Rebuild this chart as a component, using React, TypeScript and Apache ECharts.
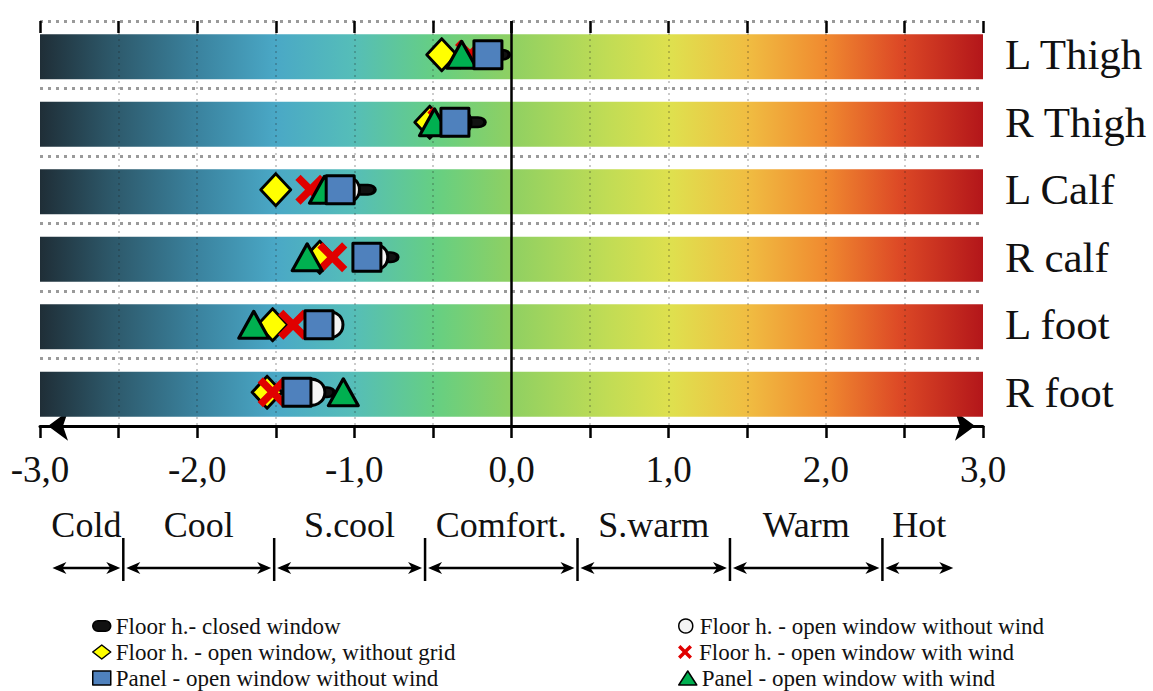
import React, { useEffect, useRef } from 'react';
import * as echarts from 'echarts';

// ---- data ----
const rows = ['L Thigh', 'R Thigh', 'L Calf', 'R calf', 'L foot', 'R foot'];
const scaleMin = -3;
const scaleMax = 3;
const gridTicks = [-2.5, -2, -1.5, -1, -0.5, 0.5, 1, 1.5, 2, 2.5];

const closedWindow = [-0.09, -0.245, -0.945, -0.80, -1.17, -1.205];
const openNoWind = [-0.14, -0.34, -1.05, -0.87, -1.155, -1.27];
const openNoGrid = [-0.444, -0.52, -1.50, -1.22, -1.52, -1.555];
const openWithWind = [-0.264, -0.44, -1.28, -1.14, -1.39, -1.52];
const panelNoWind = [-0.15, -0.36, -1.09, -0.92, -1.225, -1.365];
const panelWithWind = [-0.317, -0.49, -1.19, -1.30, -1.64, -1.07];

const zoneNames = ['Cold', 'Cool', 'S.cool', 'Comfort.', 'S.warm', 'Warm', 'Hot'];
const zoneBounds = [-2.94, -2.47, -1.51, -0.55, 0.42, 1.39, 2.36, 2.83];

const seriesNames = {
  closed: 'Floor h.- closed window',
  noWind: 'Floor h. - open window without wind',
  noGrid: 'Floor h. - open window, without grid',
  withWind: 'Floor h. - open window with wind',
  panelNoWind: 'Panel - open window without wind',
  panelWithWind: 'Panel - open window with wind',
};

const FONT = 'Liberation Serif';

const xShape =
  'path://M3.5,0 L10,6.5 L16.5,0 L20,3.5 L13.5,10 L20,16.5 L16.5,20 L10,13.5 L3.5,20 L0,16.5 L6.5,10 L0,3.5 Z';
const pillShape = 'path://M7,0 L17,0 A7,7 0 0 1 17,14 L7,14 A7,7 0 0 1 7,0 Z';

function pairs(vals: number[]) {
  return vals.map((v, i) => [v, rows[i]]);
}

export default function App() {
  const ref = useRef<HTMLDivElement>(null);

  useEffect(() => {
    if (!ref.current) return;
    const chart = echarts.init(ref.current, undefined, { renderer: 'svg' });

    const barGradient = () =>
      new echarts.graphic.LinearGradient(0, 0, 1, 0, [
        { offset: 0, color: '#1f2e37' },
        { offset: 0.07, color: '#2c5566' },
        { offset: 0.17, color: '#3b84a0' },
        { offset: 0.25, color: '#4aa8c6' },
        { offset: 0.33, color: '#55bdb9' },
        { offset: 0.42, color: '#66cf82' },
        { offset: 0.5, color: '#8fd062' },
        { offset: 0.6, color: '#c0dc55' },
        { offset: 0.67, color: '#dfe04e' },
        { offset: 0.75, color: '#f0bd42' },
        { offset: 0.83, color: '#f08c30' },
        { offset: 0.91, color: '#dd4a26' },
        { offset: 1, color: '#b3161a' },
      ]);

    const symbolSeries = (
      name: string,
      vals: number[],
      symbol: string,
      size: any,
      color: string,
      z: number,
      border = true
    ) => ({
      type: 'scatter',
      name,
      data: pairs(vals),
      symbol,
      symbolSize: size,
      xAxisIndex: 0,
      yAxisIndex: 0,
      z,
      silent: true,
      itemStyle: border
        ? { color, borderColor: '#000', borderWidth: 3, borderJoin: 'round', opacity: 1 }
        : { color, borderWidth: 0, opacity: 1 },
    });

    const legendItem = (name: string, left: number, top: number) => ({
      left,
      top,
      padding: 0,
      orient: 'horizontal',
      itemWidth: 18,
      itemHeight: 14,
      selectedMode: false,
      data: [name],
      itemStyle: { borderWidth: 1.5 },
      textStyle: { fontSize: 23, lineHeight: 26, fontFamily: FONT, color: '#111' },
    });

    const option: any = {
      animation: false,
      backgroundColor: '#fff',
      grid: [
        { left: 40, right: 170, top: 21, height: 405 },
        { left: 40, right: 170, top: 505, height: 80 },
      ],
      xAxis: [
        {
          type: 'value',
          gridIndex: 0,
          min: scaleMin,
          max: scaleMax,
          interval: 0.5,
          axisLine: {
            show: true,
            onZero: false,
            lineStyle: { color: '#000', width: 3 },
            symbol: ['arrow', 'arrow'],
            symbolSize: [22, 20],
            symbolOffset: [8, -8],
          },
          axisTick: { show: true, length: 12, lineStyle: { color: '#000', width: 2.5 } },
          axisLabel: {
            show: true,
            fontSize: 37,
            fontFamily: FONT,
            color: '#111',
            margin: 25,
            showMinLabel: true,
            showMaxLabel: true,
            formatter: (v: number) =>
              Number.isInteger(v) ? v.toFixed(1).replace('.', ',') : '',
          },
          splitLine: { show: false },
        },
        {
          type: 'value',
          gridIndex: 0,
          min: scaleMin,
          max: scaleMax,
          interval: 0.5,
          axisLine: { show: false, onZero: false },
          axisTick: { show: true, inside: true, length: 12, lineStyle: { color: '#000', width: 2.5 } },
          axisLabel: { show: false },
          splitLine: { show: false },
        },
        { type: 'value', gridIndex: 1, min: scaleMin, max: scaleMax, show: false },
      ],
      yAxis: [
        {
          type: 'category',
          gridIndex: 0,
          data: rows,
          inverse: true,
          position: 'right',
          axisLine: { show: false },
          axisTick: { show: false },
          axisLabel: { fontSize: 43, fontFamily: FONT, color: '#111', margin: 22 },
          splitLine: { show: true, lineStyle: { color: '#9a9a9a', width: 3, type: [3, 5] } },
        },
        { type: 'value', gridIndex: 1, min: 0, max: 1, show: false },
      ],
      legend: [
        legendItem(seriesNames.closed, 92, 613),
        legendItem(seriesNames.noGrid, 92, 639),
        legendItem(seriesNames.panelNoWind, 92, 665),
        legendItem(seriesNames.noWind, 678, 613),
        legendItem(seriesNames.withWind, 678, 639),
        legendItem(seriesNames.panelWithWind, 678, 665),
      ],
      series: [
        {
          type: 'custom',
          name: 'bars',
          xAxisIndex: 0,
          yAxisIndex: 0,
          z: 1,
          silent: true,
          data: rows.map((r) => [0, r]),
          renderItem: (params: any, api: any) => {
            const s = api.coord([scaleMin, api.value(1)]);
            const e = api.coord([scaleMax, api.value(1)]);
            const h = api.size([0, 1])[1] * 0.665;
            return {
              type: 'rect',
              shape: { x: s[0], y: s[1] - h / 2 + 2, width: e[0] - s[0], height: h },
              style: { fill: barGradient() },
            };
          },
        },
        {
          type: 'line',
          name: 'gridlines',
          xAxisIndex: 0,
          yAxisIndex: 0,
          z: 3,
          silent: true,
          data: [],
          markLine: {
            silent: true,
            symbol: 'none',
            label: { show: false },
            animation: false,
            data: [
              ...gridTicks.map((v) => ({
                xAxis: v,
                lineStyle: { color: 'rgba(30,30,30,0.3)', width: 1.5, type: [2, 4] },
              })),
              { xAxis: 0, lineStyle: { color: '#000', width: 2.5, type: 'solid' } },
            ],
          },
        },
        {
          ...symbolSeries(seriesNames.closed, closedWindow, pillShape, [24, 16], '#111', 10),
          symbolKeepAspect: true,
        },
        symbolSeries(seriesNames.noWind, openNoWind, 'circle', 26, '#f4f4f4', 11),
        symbolSeries(seriesNames.noGrid, openNoGrid, 'diamond', [30, 32], '#ffff00', 12),
        symbolSeries(seriesNames.withWind, openWithWind, xShape, 30, '#e00000', 13, false),
        symbolSeries(seriesNames.panelWithWind, panelWithWind, 'triangle', [30, 27], '#00b050', 14),
        symbolSeries(seriesNames.panelNoWind, panelNoWind, 'rect', 28, '#4f81bd', 15),
        {
          type: 'custom',
          name: 'zones',
          xAxisIndex: 2,
          yAxisIndex: 1,
          silent: true,
          data: zoneNames.map((n, i) => [zoneBounds[i], 0.5, zoneBounds[i + 1]]),
          renderItem: (params: any, api: any) => {
            const i = params.dataIndex;
            const cs = params.coordSys;
            const x1 = api.coord([api.value(0), 0.5])[0];
            const x2 = api.coord([api.value(2), 0.5])[0];
            const ya = cs.y + 63;
            const a1 = x1 + 3;
            const a2 = x2 - 3;
            const children: any[] = [
              {
                type: 'line',
                shape: { x1: a1 + 4, y1: ya, x2: a2 - 4, y2: ya },
                style: { stroke: '#000', lineWidth: 2.5 },
              },
              {
                type: 'polygon',
                shape: { points: [[a1, ya], [a1 + 14, ya - 6], [a1 + 10, ya], [a1 + 14, ya + 6]] },
                style: { fill: '#000' },
              },
              {
                type: 'polygon',
                shape: { points: [[a2, ya], [a2 - 14, ya - 6], [a2 - 10, ya], [a2 - 14, ya + 6]] },
                style: { fill: '#000' },
              },
              {
                type: 'text',
                x: (x1 + x2) / 2,
                y: cs.y + 20,
                style: {
                  text: zoneNames[i],
                  fontSize: 36,
                  fontFamily: FONT,
                  fill: '#111',
                  align: 'center',
                  verticalAlign: 'middle',
                },
              },
            ];
            if (i < zoneNames.length - 1) {
              children.push({
                type: 'line',
                shape: { x1: x2, y1: cs.y + 33, x2: x2, y2: cs.y + 76 },
                style: { stroke: '#000', lineWidth: 2.5 },
              });
            }
            return { type: 'group', children };
          },
        },
      ],
    };

    chart.setOption(option);
    return () => chart.dispose();
  }, []);

  return (
    <div
      ref={ref}
      style={{ position: 'fixed', left: 0, top: 0, width: 1153, height: 691, background: '#fff' }}
    />
  );
}
